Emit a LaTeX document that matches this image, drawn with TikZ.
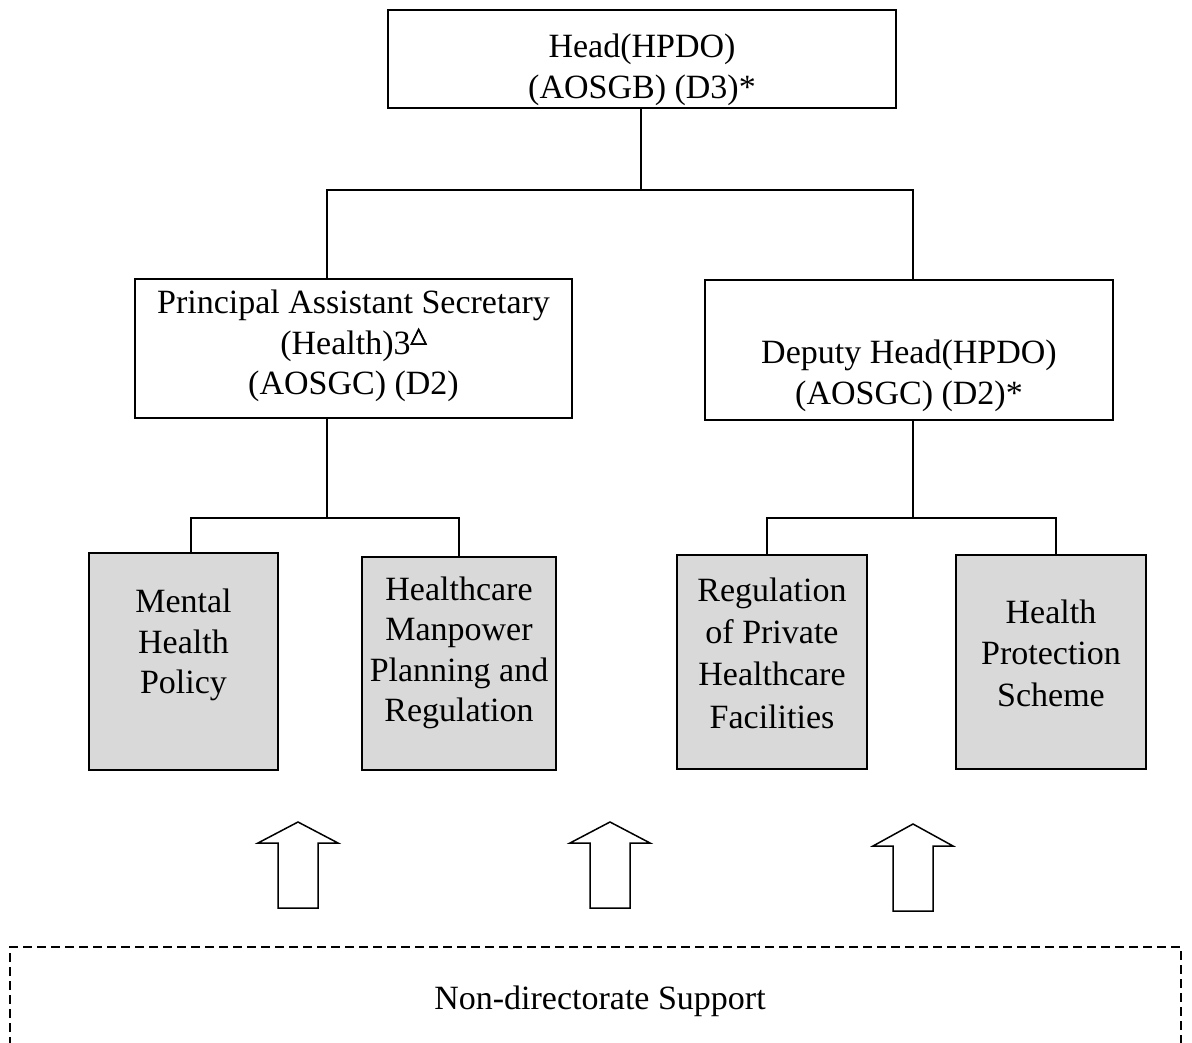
\documentclass[tikz,border=0pt]{standalone}
\usepackage{fontspec}
\setmainfont{Liberation Serif}
\newfontfamily\symfont[FakeBold=3]{DejaVu Sans}
\begin{document}
\begin{tikzpicture}[x=1pt,y=-1pt,
  box/.style={draw,line width=1.6pt,rectangle,inner sep=0pt},
  unitbox/.style={box,fill=boxgray},
  txt/.style={align=center,inner sep=0pt,font=\fontsize{34}{40.5}\selectfont},
  conn/.style={line width=1.4pt},
  uparrow/.style={draw,line width=1.5pt,fill=white,line join=miter}]
\definecolor{boxgray}{HTML}{D9D9D9}
\useasboundingbox (0,0) rectangle (1192,1043);
% boxes
\node[box,minimum width=508pt,minimum height=98pt] (head) at (642,59) {};
\node[txt] (headt) at (642,70) {Head(HPDO)\\(AOSGB) (D3)*};
\node[box,minimum width=437pt,minimum height=139pt] (pas) at (353.5,348.5) {};
\node[txt] (past) at (353.5,346) {Principal Assistant Secretary\\(Health)3\raisebox{0.36em}{\fontsize{21}{22}\selectfont\symfont △}\\(AOSGC) (D2)};
\node[box,minimum width=408pt,minimum height=140pt] (dep) at (909,350) {};
\node[txt] (dept) at (909,376) {Deputy Head(HPDO)\\(AOSGC) (D2)*};
\node[unitbox,minimum width=189pt,minimum height=217pt] (mh) at (183.5,661.5) {};
\node[txt] (mht) at (183.5,645) {Mental\\Health\\Policy};
\node[unitbox,minimum width=194pt,minimum height=213pt] (hm) at (459,663.5) {};
\node[txt] (hmt) at (459,653) {Healthcare\\Manpower\\Planning and\\Regulation};
\node[unitbox,minimum width=190pt,minimum height=214pt] (rp) at (772,662) {};
\node[txt,font=\fontsize{34}{42.3}\selectfont] (rpt) at (772,653) {Regulation\\of Private\\Healthcare\\Facilities};
\node[unitbox,minimum width=190pt,minimum height=214pt] (hp) at (1051,662) {};
\node[txt,font=\fontsize{34}{41.5}\selectfont] (hpt) at (1051,653) {Health\\Protection\\Scheme};
% connectors
\coordinate (j0) at (641,190);
\coordinate (jl) at (327,190);
\coordinate (jr) at (913,190);
\draw[conn] (head.south -| j0) -- (j0);
\draw[conn] (jl |- pas.north) -- (jl) -- (jr) -- (jr |- dep.north);
\coordinate (kl) at (327,518);
\coordinate (kl1) at (191,518);
\coordinate (kl2) at (459,518);
\draw[conn] (pas.south -| kl) -- (kl);
\draw[conn] (kl1 |- mh.north) -- (kl1) -- (kl2) -- (kl2 |- hm.north);
\coordinate (kr) at (913,518);
\coordinate (kr1) at (767,518);
\coordinate (kr2) at (1056,518);
\draw[conn] (dep.south -| kr) -- (kr);
\draw[conn] (kr1 |- rp.north) -- (kr1) -- (kr2) -- (kr2 |- hp.north);
% block arrows
\draw[uparrow] (298,822) -- (338,843) -- (318,843) -- (318,908) -- (278,908) -- (278,843) -- (258,843) -- cycle;
\draw[uparrow] (610,822) -- (650,843) -- (630,843) -- (630,908) -- (590,908) -- (590,843) -- (570,843) -- cycle;
\draw[uparrow] (913,824) -- (953,846) -- (933,846) -- (933,911) -- (893,911) -- (893,846) -- (873,846) -- cycle;
% support box
\begin{scope}
\clip (0,0) rectangle (1192,1043);
\draw[line width=1.5pt,dash pattern=on 9pt off 5pt] (10,1060) -- (10,947) -- (1181,947) -- (1181,1060);
\end{scope}
\node[txt] (sup) at (600,1001) {Non-directorate Support};
\end{tikzpicture}
\end{document}
